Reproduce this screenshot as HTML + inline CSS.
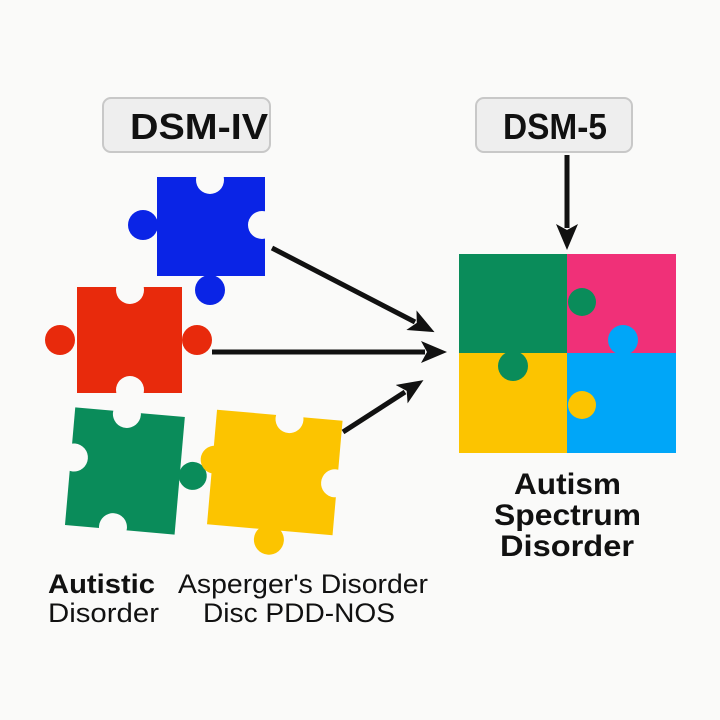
<!DOCTYPE html>
<html><head><style>
body{margin:0;background:#fafaf9;}
svg{display:block}
text{font-family:"Liberation Sans",Arial,sans-serif;fill:#111}
</style></head><body>
<svg width="720" height="720" viewBox="0 0 720 720">
<rect width="720" height="720" fill="#fafaf9"/>
<defs><marker id="ah" markerWidth="26" markerHeight="22" refX="4" refY="11" orient="auto" markerUnits="userSpaceOnUse"><path d="M0,0 L26,11 L0,22 L6,11 z" fill="#111"/></marker></defs>
<!-- boxes -->
<rect x="103" y="98" width="167" height="54" rx="8" fill="#eeeeee" stroke="#c8c8c8" stroke-width="2"/>
<text x="130" y="139" font-size="36" font-weight="bold" textLength="138" lengthAdjust="spacingAndGlyphs">DSM-IV</text>
<rect x="476" y="98" width="156" height="54" rx="8" fill="#eeeeee" stroke="#c8c8c8" stroke-width="2"/>
<text x="503" y="139" font-size="36" font-weight="bold" textLength="104" lengthAdjust="spacingAndGlyphs">DSM-5</text>
<!-- blue -->
<g fill="#0a24e6">
<rect x="157" y="177" width="108" height="99"/><circle cx="143" cy="225" r="15"/><circle cx="210" cy="290" r="15"/>
</g>
<g fill="#fafaf9"><circle cx="210" cy="180" r="14"/><circle cx="262" cy="225" r="14"/></g>
<!-- red -->
<g fill="#e82a0c">
<rect x="77" y="287" width="105" height="106"/><circle cx="60" cy="340" r="15"/><circle cx="197" cy="340" r="15"/>
</g>
<g fill="#fafaf9"><circle cx="130" cy="290" r="14"/><circle cx="130" cy="390" r="14"/></g>
<!-- green -->
<g transform="rotate(5 125 470)">
<g fill="#0a8c5a"><rect x="70" y="412" width="110" height="118"/><circle cx="193" cy="470" r="14"/></g>
<g fill="#fafaf9"><circle cx="122" cy="414" r="14"/><circle cx="73" cy="462" r="14"/><circle cx="118" cy="528" r="14"/></g>
</g>
<!-- yellow -->
<g transform="rotate(5 275 470)">
<g fill="#fcc400"><rect x="212" y="415" width="126" height="115"/><circle cx="214" cy="465" r="14"/><circle cx="275" cy="540" r="15"/></g>
<g fill="#fafaf9"><circle cx="285" cy="418" r="14"/><circle cx="336" cy="478" r="14"/></g>
</g>
<!-- arrows -->
<g stroke="#111" stroke-width="5" fill="none">
<line x1="272" y1="248" x2="415" y2="322" marker-end="url(#ah)"/>
<line x1="212" y1="352" x2="425" y2="352" marker-end="url(#ah)"/>
<line x1="343" y1="432" x2="405" y2="392" marker-end="url(#ah)"/>
<line x1="567" y1="155" x2="567" y2="228" marker-end="url(#ah)"/>
</g>
<!-- assembled square -->
<rect x="459" y="254" width="108" height="99" fill="#0a8c5a"/>
<rect x="567" y="254" width="109" height="99" fill="#f03078"/>
<rect x="459" y="353" width="108" height="100" fill="#fcc400"/>
<rect x="567" y="353" width="109" height="100" fill="#00a6f8"/>
<circle cx="582" cy="302" r="14" fill="#0a8c5a"/>
<circle cx="513" cy="366" r="15" fill="#0a8c5a"/>
<circle cx="623" cy="340" r="15" fill="#00a6f8"/>
<circle cx="582" cy="405" r="14" fill="#fcc400"/>
<!-- labels -->
<g font-size="30" font-weight="bold">
<text x="514" y="494" textLength="107" lengthAdjust="spacingAndGlyphs">Autism</text>
<text x="494" y="525" textLength="147" lengthAdjust="spacingAndGlyphs">Spectrum</text>
<text x="500" y="556" textLength="134" lengthAdjust="spacingAndGlyphs">Disorder</text>
</g>
<text x="48" y="593" font-size="27" font-weight="bold" textLength="107" lengthAdjust="spacingAndGlyphs">Autistic</text>
<text x="48" y="622" font-size="27" textLength="111" lengthAdjust="spacingAndGlyphs">Disorder</text>
<text x="178" y="593" font-size="27" textLength="250" lengthAdjust="spacingAndGlyphs">Asperger's Disorder</text>
<text x="203" y="622" font-size="27" textLength="192" lengthAdjust="spacingAndGlyphs">Disc PDD-NOS</text>
</svg>
</body></html>
